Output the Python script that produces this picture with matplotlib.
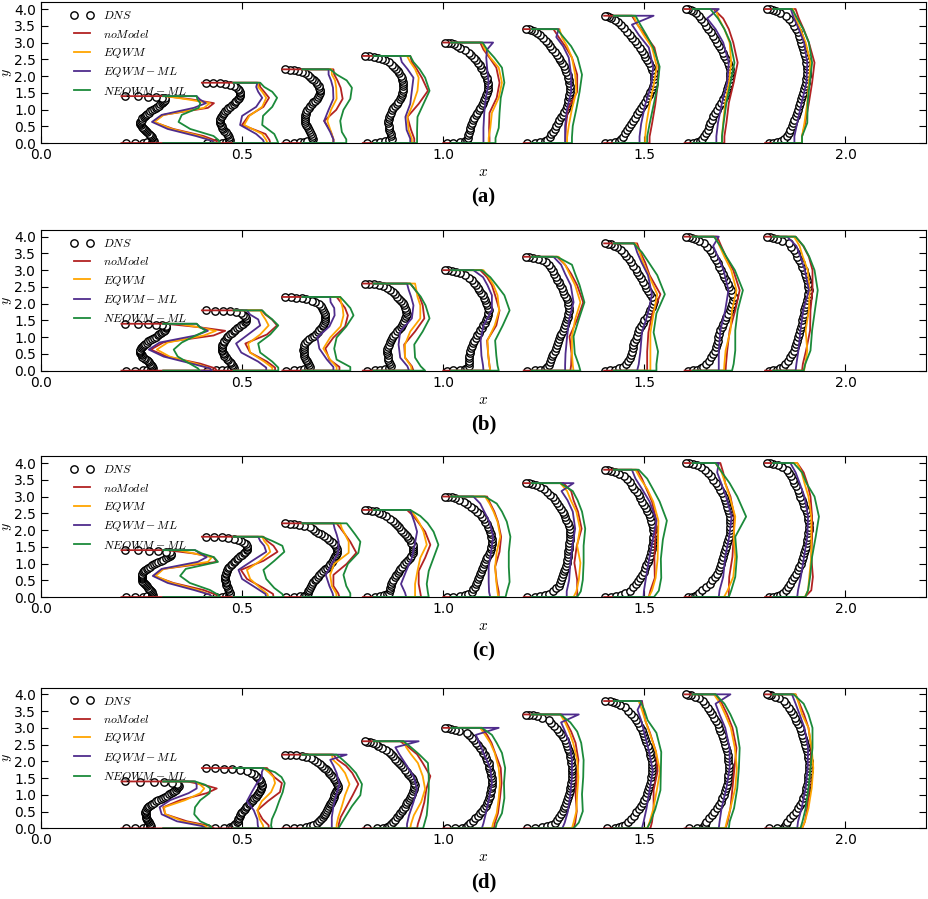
import matplotlib
matplotlib.use('Agg')
import matplotlib.pyplot as plt

plt.rcParams['mathtext.fontset'] = 'cm'
plt.rcParams['xtick.direction'] = 'in'
plt.rcParams['ytick.direction'] = 'in'

# measuring stations and local channel height
stations = [0.2, 0.4, 0.6, 0.8, 1.0, 1.2, 1.4, 1.6, 1.8]
heights = [1.4, 1.8, 2.2, 2.6, 3.0, 3.4, 3.8, 4.0, 4.0]

# wall-normal sample positions as a fraction of the local height
eta_dns = [0.001, 0.003, 0.008, 0.018, 0.03,
           0.05, 0.075, 0.1, 0.125, 0.15, 0.175, 0.2, 0.225, 0.25, 0.275,
           0.3, 0.325, 0.35, 0.375, 0.4, 0.425, 0.45, 0.475, 0.5, 0.525,
           0.55, 0.575, 0.6, 0.625, 0.65, 0.675, 0.7, 0.725, 0.75, 0.775,
           0.8, 0.825, 0.85, 0.875, 0.9, 0.925, 0.95,
           0.97, 0.982, 0.992, 0.997, 0.999]
# LES rows: bottom wall value, profile (0 .. 1), top wall value
eta_les = [0.0, 0.0, 0.05, 0.15, 0.30, 0.45, 0.60, 0.75, 0.85, 0.93, 1.0, 1.0]

# all profiles are offsets from the station, in units of 0.01 in x
# ---------------- case (a) ----------------
dns_a = [
    [1.2, 3.4, 5.3, 6.3, 7.5,
     8.0, 7.9, 7.7, 7.5, 7.3, 7.1, 6.8, 6.45, 6.1, 5.8, 5.5, 5.25, 5.0, 4.8, 4.7, 4.65, 4.7, 4.8, 5.0, 5.2,
     5.5, 5.8, 6.1, 6.45, 6.8, 7.2, 7.6, 8.05, 8.5, 8.9, 9.3, 9.65, 10.0, 10.3, 10.6, 10.75, 10.8,
     10.0, 8.5, 6.5, 4.0, 1.0],
    [1.2, 3.5, 5.0, 6.0, 6.7,
     7.0, 6.85, 6.7, 6.45, 6.2, 5.9, 5.6, 5.35, 5.1, 4.9, 4.7, 4.6, 4.6, 4.55, 4.6, 4.8, 5.0, 5.25, 5.5, 5.85,
     6.2, 6.6, 7.0, 7.45, 7.9, 8.25, 8.6, 8.9, 9.2, 9.4, 9.5, 9.5, 9.4, 9.2, 8.9, 8.45, 7.9,
     7.0, 5.8, 4.5, 2.8, 1.1],
    [0.9, 3.0, 4.3, 5.3, 6.2,
     7.6, 7.45, 7.3, 7.05, 6.8, 6.55, 6.3, 6.05, 5.8, 5.7, 5.6, 5.55, 5.6, 5.7, 5.8, 6.0, 6.2, 6.55, 6.9, 7.3,
     7.7, 8.15, 8.6, 8.9, 9.1, 9.3, 9.4, 9.35, 9.2, 9.0, 8.7, 8.3, 7.9, 7.4, 6.9, 6.3, 5.7,
     5.0, 4.0, 3.0, 2.0, 0.6],
    [1.0, 3.1, 4.3, 5.6, 6.5,
     7.2, 7.1, 7.0, 6.8, 6.6, 6.5, 6.4, 6.3, 6.3, 6.4, 6.5, 6.75, 7.0, 7.3, 7.6, 8.05, 8.5, 8.85, 9.2, 9.45,
     9.7, 9.85, 10.0, 10.05, 10.1, 10.05, 10.0, 9.85, 9.7, 9.4, 9.1, 8.7, 8.3, 7.75, 7.2, 6.45, 5.6,
     4.8, 3.9, 2.8, 1.6, 0.5],
    [0.9, 2.5, 4.1, 5.3, 5.8,
     6.1, 6.25, 6.4, 6.55, 6.7, 6.9, 7.1, 7.4, 7.7, 8.05, 8.4, 8.8, 9.2, 9.55, 9.9, 10.2, 10.5, 10.7, 10.9, 11.1,
     11.2, 11.2, 11.1, 10.95, 10.8, 10.5, 10.2, 9.85, 9.5, 9.1, 8.7, 8.2, 7.7, 7.0, 6.3, 5.3, 4.2,
     3.5, 2.7, 2.0, 1.3, 0.5],
    [0.8, 2.9, 4.1, 5.3, 5.9,
     6.5, 6.9, 7.3, 7.7, 8.1, 8.5, 8.9, 9.3, 9.7, 10.05, 10.4, 10.7, 10.9, 11.05, 11.2, 11.3, 11.4, 11.4, 11.4, 11.35,
     11.3, 11.1, 10.9, 10.6, 10.3, 9.95, 9.6, 9.15, 8.7, 8.2, 7.7, 7.15, 6.6, 6.05, 5.5, 4.8, 4.1,
     3.2, 2.5, 1.8, 1.2, 0.5],
    [0.3, 1.5, 2.8, 3.6, 4.2,
     4.7, 5.2, 5.7, 6.2, 6.7, 7.15, 7.6, 8.1, 8.6, 9.1, 9.6, 10.1, 10.6, 11.05, 11.5, 11.9, 12.2, 12.4, 12.5, 12.45,
     12.3, 12.0, 11.7, 11.2, 10.7, 10.25, 9.8, 9.3, 8.8, 8.2, 7.6, 7.0, 6.4, 5.7, 5.0, 4.2, 3.4,
     2.6, 1.8, 1.2, 0.8, 0.3],
    [0.8, 2.0, 3.1, 3.8, 4.4,
     4.9, 5.3, 5.7, 6.05, 6.4, 6.75, 7.1, 7.6, 8.1, 8.6, 9.1, 9.55, 10.0, 10.3, 10.6, 10.85, 11.1, 11.3, 11.4, 11.35,
     11.2, 10.95, 10.7, 10.3, 9.9, 9.5, 9.1, 8.6, 8.1, 7.6, 7.1, 6.45, 5.8, 5.3, 4.8, 4.15, 3.5,
     2.8, 2.2, 1.5, 0.9, 0.4],
    [0.9, 2.0, 3.0, 3.9, 4.6,
     5.5, 5.9, 6.3, 6.65, 7.0, 7.3, 7.6, 7.85, 8.1, 8.35, 8.6, 8.9, 9.2, 9.5, 9.8, 9.95, 10.1, 10.25, 10.4, 10.45,
     10.5, 10.4, 10.3, 10.1, 9.9, 9.7, 9.5, 9.25, 9.0, 8.7, 8.4, 8.1, 7.8, 7.25, 6.7, 5.9, 5.1,
     3.8, 2.8, 2.0, 1.2, 0.5],
]
nomodel_a = [
    [0, 24.0, 23.5, 20.4, 12.9, 8.0, 10.4, 21.5, 23.0, 17.5, 10.9, 0],
    [0, 17.0, 16.8, 15.8, 10.0, 11.6, 15.3, 16.7, 15.5, 14.5, 14.3, 0],
    [0, 12.7, 12.7, 12.1, 10.4, 13.4, 15.0, 14.5, 13.7, 12.9, 12.7, 0],
    [0, 12.8, 12.8, 12.0, 11.1, 13.9, 16.2, 14.7, 13.4, 12.2, 11.8, 0],
    [0, 11.5, 11.5, 11.4, 11.5, 13.3, 14.0, 13.2, 11.5, 10.0, 9.2, 0],
    [0, 10.4, 10.4, 10.5, 11.0, 13.3, 13.3, 12.0, 10.3, 8.7, 7.4, 0],
    [0, 11.3, 11.3, 11.9, 12.7, 13.3, 13.6, 12.5, 10.2, 8.3, 6.9, 0],
    [0, 9.9, 9.9, 10.4, 11.0, 12.2, 13.2, 12.1, 11.0, 9.6, 7.2, 0],
    [0, 9.2, 9.2, 10.0, 10.9, 11.7, 12.3, 10.9, 9.6, 8.4, 7.6, 0],
]
eqwm_a = [
    [10.4, 23.0, 22.5, 19.5, 12.5, 8.2, 10.5, 20.5, 22.0, 16.5, 11.0, 10.4],
    [7.9, 16.3, 16.0, 15.0, 10.5, 11.8, 15.0, 16.0, 15.0, 14.0, 14.0, 7.9],
    [5.0, 12.7, 12.7, 12.1, 11.2, 12.1, 13.5, 13.4, 13.1, 12.3, 12.3, 5.0],
    [2.7, 12.2, 12.2, 11.4, 11.1, 12.5, 13.6, 13.9, 13.0, 11.8, 11.0, 2.7],
    [2.0, 11.3, 11.3, 11.7, 12.1, 13.8, 14.6, 13.8, 11.7, 10.4, 9.6, 2.0],
    [2.0, 10.8, 10.8, 11.2, 12.0, 13.1, 12.8, 12.0, 10.8, 9.5, 8.9, 2.0],
    [2.4, 10.2, 10.2, 10.5, 11.3, 12.3, 13.1, 11.9, 9.8, 8.3, 7.3, 2.4],
    [2.0, 9.3, 9.3, 9.6, 10.1, 11.0, 11.6, 11.2, 9.9, 8.5, 7.7, 2.0],
    [2.0, 9.2, 9.2, 9.8, 10.5, 10.9, 11.3, 10.1, 8.8, 7.6, 7.0, 2.0],
]
eqwm_ml_a = [
    [10.4, 23.0, 22.5, 18.5, 11.5, 7.6, 10.0, 18.0, 21.0, 19.5, 18.7, 10.4],
    [7.9, 15.5, 15.2, 13.5, 9.5, 10.0, 13.5, 15.0, 14.0, 13.5, 13.8, 7.9],
    [5.0, 12.7, 12.7, 11.9, 10.4, 11.5, 12.7, 12.6, 12.1, 11.5, 11.5, 5.0],
    [2.7, 11.8, 11.8, 10.9, 10.6, 11.8, 12.2, 12.6, 11.1, 9.7, 9.3, 2.7],
    [2.0, 10.0, 10.0, 10.0, 10.2, 10.6, 11.3, 10.9, 10.7, 10.9, 12.4, 2.0],
    [2.0, 10.3, 10.3, 10.3, 10.8, 11.8, 11.8, 11.2, 9.8, 8.1, 8.7, 2.0],
    [2.4, 8.8, 8.8, 9.2, 10.2, 11.7, 12.2, 11.1, 8.6, 6.9, 12.3, 2.4],
    [2.0, 7.9, 7.9, 8.3, 9.3, 10.6, 11.0, 9.6, 7.7, 5.6, 8.5, 2.0],
    [2.0, 7.3, 7.3, 8.0, 9.1, 10.3, 10.5, 9.7, 8.4, 7.2, 6.4, 2.0],
]
neqwm_ml_a = [
    [10.4, 24.5, 24.3, 22.9, 17.1, 14.2, 15.0, 19.2, 19.6, 18.9, 18.7, 10.4],
    [7.9, 19.0, 18.7, 18.0, 15.0, 15.2, 17.5, 18.7, 17.5, 15.5, 14.5, 7.9],
    [5.0, 15.9, 15.9, 14.8, 14.4, 15.2, 16.9, 17.3, 16.0, 13.5, 11.9, 5.0],
    [2.7, 13.5, 13.5, 13.5, 13.6, 15.1, 16.6, 15.5, 14.1, 12.6, 11.8, 2.7],
    [2.0, 13.0, 13.0, 13.8, 14.0, 14.3, 15.2, 14.6, 12.7, 10.9, 9.8, 2.0],
    [2.0, 12.0, 12.0, 12.2, 13.1, 13.9, 14.5, 13.4, 11.8, 9.9, 8.3, 2.0],
    [2.4, 10.7, 10.7, 11.3, 12.3, 13.3, 13.8, 12.2, 10.5, 9.0, 7.8, 2.4],
    [2.0, 9.3, 9.3, 9.7, 10.4, 11.4, 12.4, 11.4, 9.9, 8.3, 6.4, 2.0],
    [2.0, 9.2, 9.2, 10.5, 10.6, 11.1, 11.7, 10.9, 9.5, 8.0, 6.7, 2.0],
]

# ---------------- case (b) ----------------
dns_b = [
    [1.2, 3.4, 5.3, 6.3, 7.3,
     7.8, 7.7, 7.6, 7.4, 7.2, 6.9, 6.6, 6.25, 5.9, 5.55, 5.2, 5.0, 4.8, 4.7, 4.6, 4.6, 4.7, 4.85, 5.0, 5.3,
     5.6, 5.95, 6.3, 6.7, 7.1, 7.55, 8.0, 8.5, 9.0, 9.4, 9.8, 10.15, 10.5, 10.75, 11.0, 11.1, 11.2,
     10.2, 8.6, 6.6, 4.0, 1.0],
    [1.2, 3.5, 5.0, 6.2, 7.2,
     7.9, 7.7, 7.5, 7.2, 6.9, 6.55, 6.2, 5.9, 5.6, 5.4, 5.2, 5.1, 5.0, 4.95, 5.0, 5.1, 5.2, 5.4, 5.6, 5.9,
     6.2, 6.6, 7.0, 7.45, 7.9, 8.3, 8.7, 9.2, 9.7, 10.15, 10.6, 10.85, 11.0, 10.95, 10.8, 10.3, 9.7,
     8.5, 7.0, 5.3, 3.2, 1.1],
    [0.9, 3.0, 4.3, 5.3, 6.3,
     6.9, 6.6, 6.3, 6.05, 5.8, 5.65, 5.5, 5.4, 5.3, 5.25, 5.3, 5.35, 5.4, 5.7, 6.1, 6.7, 7.3, 7.85, 8.4, 8.8,
     9.2, 9.6, 10.0, 10.2, 10.4, 10.5, 10.6, 10.6, 10.6, 10.5, 10.4, 10.15, 9.9, 9.5, 9.0, 8.2, 7.3,
     6.0, 4.8, 3.5, 2.2, 0.6],
    [1.0, 3.1, 4.3, 5.5, 6.4,
     7.0, 6.75, 6.5, 6.35, 6.2, 6.15, 6.1, 6.05, 6.1, 6.3, 6.5, 6.75, 7.0, 7.3, 7.6, 8.05, 8.5, 9.0, 9.5, 9.8,
     10.1, 10.35, 10.6, 10.8, 10.9, 10.85, 10.8, 10.55, 10.3, 9.9, 9.5, 9.05, 8.6, 8.1, 7.6, 6.8, 6.0,
     5.0, 4.0, 2.8, 1.6, 0.5],
    [0.9, 2.5, 4.1, 5.3, 6.0,
     6.3, 6.3, 6.3, 6.4, 6.5, 6.6, 6.7, 6.9, 7.1, 7.4, 7.7, 8.05, 8.4, 8.8, 9.2, 9.6, 10.0, 10.35, 10.7, 10.9,
     11.1, 11.2, 11.3, 11.2, 11.0, 10.7, 10.4, 10.1, 9.8, 9.4, 9.0, 8.6, 8.2, 7.65, 7.1, 6.3, 5.5,
     4.2, 3.2, 2.2, 1.3, 0.5],
    [0.8, 2.9, 4.1, 5.2, 5.8,
     6.2, 6.55, 6.9, 7.15, 7.4, 7.7, 8.0, 8.25, 8.5, 8.75, 9.0, 9.35, 9.7, 10.0, 10.3, 10.55, 10.8, 10.95, 11.1, 11.15,
     11.2, 11.05, 10.9, 10.65, 10.4, 10.1, 9.8, 9.45, 9.1, 8.75, 8.4, 8.0, 7.6, 7.2, 6.8, 6.2, 5.6,
     4.5, 3.5, 2.4, 1.4, 0.5],
    [0.3, 1.5, 2.8, 3.8, 4.7,
     5.5, 5.95, 6.4, 6.65, 6.9, 7.1, 7.3, 7.55, 7.8, 8.05, 8.3, 8.75, 9.2, 9.6, 10.0, 10.55, 11.1, 11.5, 11.9, 12.15,
     12.3, 11.95, 11.5, 11.0, 10.5, 10.05, 9.6, 9.15, 8.7, 8.25, 7.8, 7.25, 6.7, 6.1, 5.5, 4.85, 4.2,
     3.2, 2.4, 1.6, 1.0, 0.3],
    [0.8, 2.0, 3.1, 4.0, 4.7,
     5.4, 6.0, 6.6, 7.05, 7.5, 7.8, 8.1, 8.25, 8.4, 8.65, 8.9, 9.25, 9.6, 10.0, 10.4, 10.9, 11.4, 11.65, 11.9, 12.05,
     12.2, 11.9, 11.6, 11.15, 10.7, 10.3, 9.9, 9.5, 9.1, 8.65, 8.2, 7.75, 7.3, 6.8, 6.3, 5.55, 4.8,
     3.6, 2.6, 1.8, 1.0, 0.4],
    [0.9, 2.0, 3.0, 3.8, 4.4,
     4.9, 5.6, 6.3, 6.7, 7.1, 7.45, 7.8, 8.05, 8.3, 8.55, 8.8, 8.95, 9.1, 9.3, 9.5, 9.65, 9.8, 10.05, 10.3, 10.45,
     10.6, 10.75, 10.9, 10.75, 10.6, 10.35, 10.1, 9.85, 9.6, 9.25, 8.9, 8.45, 8.0, 7.6, 7.2, 6.55, 5.9,
     4.3, 3.0, 2.1, 1.2, 0.5],
]
nomodel_b = [
    [0, 23.7, 23.3, 19.6, 11.3, 7.3, 10.4, 22.9, 25.8, 19.0, 11.0, 0],
    [0, 18.2, 18.2, 16.2, 12.0, 10.8, 16.2, 18.7, 17.4, 15.8, 14.9, 0],
    [0, 14.2, 14.2, 11.7, 10.7, 12.7, 15.6, 16.3, 15.6, 14.5, 13.5, 0],
    [0, 12.6, 12.2, 10.5, 10.3, 13.0, 15.3, 14.9, 14.1, 13.0, 11.8, 0],
    [0, 11.7, 11.5, 11.2, 10.9, 13.2, 14.0, 12.9, 12.1, 10.9, 9.2, 0],
    [0, 11.6, 11.8, 11.9, 11.4, 13.3, 14.8, 13.3, 11.8, 10.3, 8.3, 0],
    [0, 10.7, 10.7, 10.7, 11.0, 12.0, 14.0, 11.3, 10.2, 9.0, 8.2, 0],
    [0, 10.2, 10.3, 10.6, 11.2, 12.6, 13.7, 12.1, 10.3, 9.1, 8.1, 0],
    [0, 9.2, 9.4, 10.2, 11.2, 11.3, 11.8, 11.8, 10.9, 9.5, 7.6, 0],
]
eqwm_b = [
    [10.4, 22.5, 22.0, 18.5, 12.0, 8.8, 11.5, 20.5, 23.5, 19.0, 14.0, 10.4],
    [7.9, 17.5, 17.5, 15.5, 12.0, 11.5, 14.5, 16.6, 15.8, 15.0, 14.5, 7.9],
    [5.0, 13.5, 13.5, 11.9, 10.2, 11.9, 14.5, 15.2, 15.0, 14.6, 14.4, 5.0],
    [2.7, 12.2, 12.0, 10.5, 10.5, 11.8, 14.3, 14.3, 13.6, 13.3, 13.0, 2.7],
    [2.0, 11.7, 11.5, 11.2, 11.0, 12.8, 13.9, 13.5, 12.5, 11.3, 10.0, 2.0],
    [2.0, 12.4, 12.2, 12.0, 12.0, 12.8, 14.1, 12.8, 11.4, 10.3, 8.7, 2.0],
    [2.4, 11.5, 11.5, 11.5, 11.5, 12.3, 13.2, 11.1, 9.7, 8.8, 7.8, 2.4],
    [2.0, 9.8, 9.9, 10.2, 11.4, 11.8, 12.9, 11.6, 9.9, 8.7, 7.7, 2.0],
    [2.0, 9.7, 10.0, 10.5, 10.1, 10.9, 11.1, 10.6, 9.4, 8.6, 7.2, 2.0],
]
eqwm_ml_b = [
    [10.4, 22.5, 22.0, 17.5, 10.5, 6.8, 9.5, 18.5, 21.5, 19.5, 18.7, 10.4],
    [7.9, 16.0, 16.0, 14.0, 9.8, 8.5, 11.5, 14.5, 14.0, 12.0, 11.2, 7.9],
    [5.0, 12.7, 12.7, 11.1, 9.2, 8.7, 11.7, 13.0, 12.9, 12.0, 11.9, 5.0],
    [2.7, 11.5, 11.1, 9.3, 8.9, 9.3, 12.2, 12.6, 12.0, 11.4, 11.0, 2.7],
    [2.0, 10.0, 9.9, 9.5, 9.3, 10.0, 12.1, 12.1, 11.0, 9.9, 7.5, 2.0],
    [2.0, 10.3, 10.3, 10.4, 10.8, 11.3, 12.4, 11.7, 10.3, 9.3, 7.4, 2.0],
    [2.4, 8.2, 8.6, 9.0, 9.4, 10.9, 11.9, 10.9, 9.3, 8.2, 7.5, 2.4],
    [2.0, 8.5, 8.5, 8.5, 8.9, 10.1, 10.9, 9.7, 8.3, 7.1, 8.5, 2.0],
    [2.0, 7.6, 7.8, 8.3, 8.8, 9.5, 10.9, 9.9, 8.8, 7.8, 5.5, 2.0],
]
neqwm_ml_b = [
    [10.4, 19.5, 19.0, 17.0, 14.0, 13.0, 15.0, 18.5, 21.0, 19.5, 18.7, 10.4],
    [7.9, 19.0, 19.0, 17.5, 14.5, 14.0, 17.0, 19.0, 17.5, 16.0, 15.0, 7.9],
    [5.0, 16.9, 16.9, 13.5, 12.9, 13.5, 15.9, 17.7, 16.9, 15.6, 14.4, 5.0],
    [2.7, 15.5, 14.4, 13.0, 12.8, 14.9, 16.6, 15.6, 14.4, 13.0, 11.8, 2.7],
    [2.0, 13.8, 13.5, 13.2, 12.9, 14.8, 16.5, 15.2, 13.3, 11.7, 9.6, 2.0],
    [2.0, 14.1, 13.7, 12.7, 12.4, 13.7, 15.1, 13.9, 12.8, 12.0, 8.3, 2.0],
    [2.4, 13.0, 13.0, 13.4, 12.3, 13.0, 15.1, 13.2, 11.1, 9.4, 7.3, 2.4],
    [2.0, 11.8, 12.2, 12.6, 12.6, 13.2, 14.5, 12.5, 10.4, 8.9, 7.3, 2.0],
    [2.0, 9.6, 10.0, 11.3, 11.7, 12.4, 13.1, 12.3, 11.0, 9.6, 7.6, 2.0],
]

# ---------------- case (c) ----------------
dns_c = [
    [1.2, 3.4, 5.3, 6.3, 7.5,
     7.8, 7.65, 7.5, 7.3, 7.1, 6.85, 6.6, 6.3, 6.0, 5.8, 5.6, 5.4, 5.2, 5.15, 5.1, 5.1, 5.1, 5.15, 5.2, 5.4,
     5.6, 5.95, 6.3, 6.7, 7.1, 7.6, 8.1, 8.65, 9.2, 9.8, 10.4, 11.0, 11.6, 12.05, 12.4, 12.4, 12.2,
     11.0, 9.0, 6.8, 4.0, 1.0],
    [1.2, 3.5, 5.0, 6.0, 6.7,
     7.0, 6.9, 6.8, 6.6, 6.4, 6.25, 6.1, 6.0, 5.9, 5.85, 5.8, 5.8, 5.8, 5.9, 6.0, 6.15, 6.3, 6.55, 6.8, 7.15,
     7.5, 7.9, 8.3, 8.7, 9.1, 9.55, 10.0, 10.4, 10.8, 11.1, 11.3, 11.3, 11.2, 10.85, 10.4, 9.8, 9.1,
     8.0, 6.5, 5.0, 3.0, 1.1],
    [0.9, 3.0, 4.3, 5.3, 5.8,
     6.3, 6.5, 6.7, 6.95, 7.2, 7.45, 7.7, 8.05, 8.4, 8.8, 9.2, 9.65, 10.1, 10.6, 11.1, 11.5, 11.9, 12.3, 12.7, 12.95,
     13.2, 13.35, 13.5, 13.6, 13.6, 13.45, 13.2, 12.8, 12.3, 11.7, 11.1, 10.35, 9.6, 8.9, 8.2, 7.55, 6.9,
     5.5, 4.2, 3.0, 1.8, 0.6],
    [1.0, 3.1, 4.3, 5.3, 6.0,
     6.6, 6.7, 6.8, 6.95, 7.1, 7.35, 7.6, 7.95, 8.3, 8.65, 9.0, 9.35, 9.7, 10.25, 10.8, 11.3, 11.8, 12.1, 12.4, 12.5,
     12.6, 12.55, 12.4, 12.1, 11.8, 11.35, 10.9, 10.5, 10.1, 9.6, 9.1, 8.6, 8.1, 7.45, 6.8, 5.8, 4.7,
     4.0, 3.2, 2.3, 1.4, 0.5],
    [0.9, 2.5, 4.1, 5.3, 6.2,
     7.1, 7.45, 7.8, 8.1, 8.4, 8.7, 9.0, 9.25, 9.5, 9.7, 9.9, 10.15, 10.4, 10.7, 11.0, 11.35, 11.7, 11.85, 12.0, 12.05,
     12.1, 12.05, 12.0, 11.85, 11.7, 11.4, 11.1, 10.8, 10.5, 10.1, 9.7, 9.05, 8.4, 7.65, 6.9, 6.0, 5.1,
     4.0, 3.0, 2.1, 1.3, 0.5],
    [0.8, 2.9, 4.1, 5.3, 6.2,
     7.4, 8.1, 8.7, 9.0, 9.3, 9.55, 9.8, 10.05, 10.3, 10.5, 10.7, 10.8, 10.9, 11.0, 11.1, 11.15, 11.2, 11.3, 11.4, 11.5,
     11.6, 11.5, 11.4, 11.15, 10.9, 10.6, 10.3, 10.0, 9.7, 9.25, 8.8, 8.3, 7.8, 7.2, 6.6, 5.85, 5.1,
     4.0, 3.0, 2.1, 1.3, 0.5],
    [0.3, 1.8, 3.0, 4.2, 5.3,
     6.5, 7.3, 8.0, 8.5, 9.0, 9.4, 9.8, 10.15, 10.5, 10.8, 11.1, 11.35, 11.6, 11.8, 12.0, 12.1, 12.2, 12.25, 12.3, 12.2,
     12.1, 11.9, 11.7, 11.4, 11.1, 10.7, 10.3, 9.85, 9.4, 9.0, 8.6, 8.05, 7.5, 6.95, 6.4, 5.65, 4.9,
     3.6, 2.6, 1.7, 1.0, 0.3],
    [0.8, 1.8, 2.6, 3.2, 3.6,
     4.4, 5.3, 6.2, 6.9, 7.6, 8.05, 8.5, 8.8, 9.1, 9.35, 9.6, 9.85, 10.1, 10.35, 10.6, 10.85, 11.1, 11.25, 11.4, 11.4,
     11.4, 11.35, 11.3, 11.05, 10.8, 10.55, 10.3, 10.0, 9.7, 9.25, 8.8, 8.25, 7.7, 7.15, 6.6, 5.9, 5.2,
     4.0, 3.0, 2.0, 1.1, 0.4],
    [0.9, 2.0, 3.0, 3.8, 4.4,
     5.1, 5.6, 6.1, 6.6, 7.1, 7.6, 8.1, 8.55, 9.0, 9.25, 9.5, 9.75, 10.0, 10.2, 10.4, 10.55, 10.7, 10.8, 10.9, 10.9,
     10.9, 10.75, 10.6, 10.35, 10.1, 9.8, 9.5, 9.15, 8.8, 8.45, 8.1, 7.7, 7.3, 6.9, 6.5, 6.0, 5.5,
     4.3, 3.1, 2.1, 1.2, 0.5],
]
nomodel_c = [
    [0, 24.0, 23.5, 20.4, 12.9, 8.1, 10.4, 23.7, 22.9, 17.9, 11.3, 0],
    [0, 17.8, 17.7, 15.3, 11.2, 9.7, 15.3, 18.8, 17.8, 16.2, 15.3, 0],
    [0, 14.2, 13.9, 12.7, 12.7, 16.0, 18.4, 16.9, 15.6, 14.5, 13.5, 0],
    [0, 14.5, 14.3, 13.9, 13.9, 15.5, 16.8, 15.5, 13.9, 12.6, 11.0, 0],
    [0, 13.8, 13.8, 13.3, 12.9, 14.0, 14.4, 13.6, 12.7, 11.7, 10.9, 0],
    [0, 13.3, 13.3, 13.3, 12.6, 13.2, 14.4, 13.5, 12.4, 11.8, 9.9, 0],
    [0, 11.1, 11.5, 12.6, 12.5, 12.7, 13.0, 11.9, 10.5, 9.4, 8.2, 0],
    [0, 11.0, 11.0, 11.1, 11.9, 12.2, 12.4, 11.4, 10.1, 9.6, 8.9, 0],
    [0, 9.9, 11.5, 11.9, 11.5, 11.7, 11.7, 11.3, 10.5, 9.6, 8.0, 0],
]
eqwm_c = [
    [10.4, 22.5, 22.0, 19.0, 12.5, 8.5, 10.5, 21.5, 22.5, 18.0, 14.0, 10.4],
    [7.9, 16.5, 16.3, 14.5, 12.0, 11.2, 14.5, 17.0, 16.5, 15.5, 15.0, 7.9],
    [5.0, 13.5, 13.4, 12.3, 11.9, 12.9, 16.5, 16.5, 15.6, 14.8, 14.4, 5.0],
    [2.7, 13.0, 13.0, 13.0, 13.6, 14.3, 15.9, 15.1, 14.1, 13.0, 11.8, 2.7],
    [2.0, 13.7, 13.5, 13.2, 12.9, 13.3, 14.2, 13.5, 12.5, 11.5, 10.4, 2.0],
    [2.0, 12.4, 13.1, 13.7, 14.1, 13.3, 14.0, 13.1, 11.7, 10.8, 9.1, 2.0],
    [2.4, 11.1, 11.9, 12.8, 13.3, 13.4, 13.5, 12.2, 10.7, 9.0, 7.8, 2.4],
    [2.0, 9.8, 10.7, 12.1, 12.6, 12.2, 12.6, 11.2, 10.1, 9.2, 7.7, 2.0],
    [2.0, 9.9, 10.7, 11.0, 11.5, 11.5, 11.5, 10.8, 9.8, 9.1, 8.0, 2.0],
]
eqwm_ml_c = [
    [10.4, 22.5, 22.0, 18.0, 11.5, 7.8, 10.0, 19.0, 21.2, 19.5, 18.3, 10.4],
    [7.9, 16.0, 15.8, 13.5, 10.0, 9.1, 12.5, 16.0, 15.5, 14.5, 14.0, 7.9],
    [5.0, 12.7, 12.5, 11.7, 10.8, 12.3, 13.9, 14.0, 13.5, 13.0, 12.7, 5.0],
    [2.7, 10.8, 10.5, 9.5, 10.8, 12.2, 12.9, 13.5, 12.9, 12.3, 11.8, 2.7],
    [2.0, 11.7, 11.4, 11.3, 11.3, 11.9, 12.4, 11.5, 10.2, 9.2, 7.5, 2.0],
    [2.0, 10.7, 10.7, 11.3, 11.6, 12.1, 12.8, 12.2, 10.9, 9.4, 12.4, 2.0],
    [2.4, 9.8, 9.9, 10.4, 11.2, 12.1, 13.0, 11.3, 9.4, 7.8, 6.9, 2.4],
    [2.0, 8.5, 8.7, 9.6, 10.1, 11.1, 11.7, 10.3, 9.1, 8.1, 8.5, 2.0],
    [2.0, 8.0, 8.2, 8.9, 9.7, 10.5, 10.7, 9.8, 8.6, 7.6, 6.3, 2.0],
]
neqwm_ml_c = [
    [10.4, 24.5, 24.0, 22.0, 17.0, 14.6, 16.0, 24.0, 23.0, 20.0, 18.3, 10.4],
    [7.9, 20.3, 20.0, 18.0, 16.0, 15.3, 18.0, 20.5, 20.0, 17.5, 15.0, 7.9],
    [5.0, 16.9, 16.9, 15.9, 15.2, 16.3, 18.9, 19.4, 18.1, 17.0, 16.0, 5.0],
    [2.7, 16.4, 16.2, 15.9, 16.4, 17.6, 18.8, 17.6, 16.1, 14.3, 11.8, 2.7],
    [2.0, 15.5, 15.8, 16.5, 16.3, 16.3, 16.7, 15.8, 14.6, 13.3, 10.4, 2.0],
    [2.0, 13.3, 14.2, 14.7, 14.9, 14.9, 15.3, 14.5, 13.4, 12.2, 9.1, 2.0],
    [2.4, 12.4, 13.6, 14.2, 14.1, 14.6, 15.6, 13.8, 12.1, 10.7, 8.6, 2.4],
    [2.0, 11.0, 11.6, 12.6, 13.0, 12.6, 15.3, 13.1, 11.2, 9.3, 7.7, 2.0],
    [2.0, 10.0, 10.7, 11.2, 11.7, 12.6, 13.4, 12.3, 10.3, 9.2, 7.1, 2.0],
]

# ---------------- case (d) ----------------
dns_d = [
    [1.2, 3.4, 5.3, 6.3, 7.0,
     7.3, 7.15, 7.0, 6.8, 6.6, 6.45, 6.3, 6.2, 6.1, 6.05, 6.0, 5.95, 5.9, 6.0, 6.1, 6.35, 6.6, 6.95, 7.3, 7.7,
     8.1, 8.65, 9.2, 9.75, 10.3, 10.8, 11.3, 11.8, 12.3, 12.7, 13.1, 13.5, 13.9, 14.15, 14.3, 14.1, 13.8,
     12.5, 10.5, 8.0, 4.5, 1.0],
    [1.2, 3.3, 5.4, 7.0, 7.6,
     7.9, 8.3, 8.7, 8.9, 9.1, 9.25, 9.4, 9.55, 9.7, 10.05, 10.4, 10.7, 11.0, 11.3, 11.6, 12.0, 12.4, 12.7, 13.0, 13.35,
     13.7, 14.0, 14.3, 14.5, 14.7, 14.8, 14.9, 14.9, 14.8, 14.65, 14.5, 14.2, 13.8, 13.35, 12.9, 12.1, 11.2,
     9.5, 7.5, 5.5, 3.2, 1.1],
    [0.9, 2.8, 4.5, 5.8, 6.8,
     7.7, 8.5, 9.2, 9.65, 10.1, 10.35, 10.6, 10.9, 11.2, 11.4, 11.6, 11.85, 12.1, 12.35, 12.6, 12.75, 12.9, 13.15, 13.4, 13.6,
     13.8, 13.8, 13.7, 13.4, 13.1, 12.8, 12.5, 12.1, 11.7, 11.3, 10.9, 10.4, 9.9, 9.3, 8.7, 7.9, 7.1,
     5.9, 4.8, 3.5, 2.0, 0.6],
    [1.0, 3.5, 5.1, 6.0, 6.6,
     7.0, 7.5, 8.0, 8.45, 8.9, 9.3, 9.7, 10.1, 10.5, 10.8, 11.1, 11.45, 11.8, 12.05, 12.3, 12.5, 12.7, 12.85, 12.9, 12.8,
     12.6, 12.2, 11.8, 11.35, 10.9, 10.5, 10.1, 9.6, 9.1, 8.55, 8.0, 7.5, 7.0, 6.4, 5.8, 4.85, 3.9,
     3.2, 2.5, 1.8, 1.1, 0.5],
    [0.9, 2.9, 4.6, 5.6, 6.2,
     6.7, 7.35, 8.0, 8.6, 9.2, 9.7, 10.2, 10.55, 10.9, 11.15, 11.4, 11.55, 11.7, 11.85, 12.0, 12.05, 12.1, 12.1, 12.1, 12.0,
     11.9, 11.7, 11.5, 11.4, 11.3, 11.0, 10.7, 10.35, 10.0, 9.6, 9.2, 8.7, 8.2, 7.65, 7.1, 6.5, 5.9,
     4.0, 3.0, 2.0, 1.2, 0.5],
    [0.8, 2.9, 4.5, 5.8, 6.8,
     7.9, 8.4, 8.9, 9.35, 9.8, 10.05, 10.3, 10.55, 10.8, 11.0, 11.2, 11.4, 11.6, 11.7, 11.8, 11.9, 12.0, 12.0, 12.0, 11.95,
     11.9, 11.8, 11.7, 11.55, 11.4, 11.2, 11.0, 10.75, 10.5, 10.15, 9.8, 9.35, 8.9, 8.25, 7.6, 6.9, 6.2,
     4.5, 3.3, 2.2, 1.3, 0.5],
    [0.7, 2.8, 3.7, 4.5, 5.2,
     5.9, 6.65, 7.4, 8.0, 8.6, 9.1, 9.6, 9.95, 10.3, 10.6, 10.9, 11.15, 11.4, 11.55, 11.7, 11.8, 11.9, 11.9, 11.9, 11.8,
     11.7, 11.5, 11.3, 11.05, 10.8, 10.5, 10.2, 9.95, 9.7, 9.35, 9.0, 8.5, 8.0, 7.35, 6.7, 6.0, 5.3,
     4.0, 3.0, 2.3, 1.5, 0.3],
    [1.0, 3.1, 4.7, 5.0, 5.2,
     5.4, 6.1, 6.8, 7.4, 8.0, 8.55, 9.1, 9.4, 9.7, 10.0, 10.3, 10.5, 10.7, 10.8, 10.9, 11.0, 11.1, 11.0, 10.9, 10.8,
     10.7, 10.5, 10.3, 10.05, 9.8, 9.5, 9.2, 8.9, 8.6, 8.2, 7.8, 7.35, 6.9, 6.35, 5.8, 5.2, 4.6,
     3.5, 2.5, 1.6, 0.9, 0.4],
    [0.9, 3.0, 4.6, 5.0, 5.3,
     5.5, 6.25, 7.0, 7.6, 8.2, 8.7, 9.2, 9.55, 9.9, 10.1, 10.3, 10.45, 10.6, 10.7, 10.8, 10.85, 10.9, 10.9, 10.9, 10.8,
     10.7, 10.5, 10.3, 10.05, 9.8, 9.5, 9.2, 8.9, 8.6, 8.2, 7.8, 7.4, 7.0, 6.45, 5.9, 5.3, 4.7,
     3.5, 2.5, 1.6, 0.9, 0.4],
]
nomodel_d = [
    [0, 23.0, 22.1, 16.3, 10.9, 10.4, 14.6, 21.2, 23.7, 20.4, 16.3, 0],
    [0, 16.6, 16.6, 15.1, 13.8, 16.4, 19.4, 19.9, 18.0, 17.0, 16.2, 0],
    [0, 14.0, 14.0, 14.5, 16.0, 17.5, 18.9, 17.4, 15.8, 13.7, 12.7, 0],
    [0, 13.5, 13.7, 14.4, 15.3, 15.8, 16.8, 14.9, 13.5, 11.4, 9.3, 0],
    [0, 12.6, 12.8, 13.6, 14.1, 14.5, 14.3, 12.9, 12.0, 10.9, 9.6, 0],
    [0, 12.4, 12.8, 13.2, 12.9, 13.2, 13.6, 12.9, 11.8, 10.6, 9.5, 0],
    [0, 11.5, 11.9, 12.3, 12.3, 13.3, 12.9, 11.4, 10.2, 9.8, 9.4, 0],
    [0, 10.2, 10.7, 11.4, 11.9, 12.4, 12.9, 11.9, 10.6, 9.3, 7.7, 0],
    [0, 9.2, 9.9, 10.5, 11.0, 11.3, 11.5, 10.8, 9.7, 8.6, 7.6, 0],
]
eqwm_d = [
    [10.4, 21.5, 20.8, 15.4, 10.9, 10.6, 15.8, 19.6, 20.6, 19.6, 17.9, 10.4],
    [7.9, 15.3, 15.2, 14.4, 13.8, 14.9, 17.2, 18.2, 17.8, 16.6, 15.3, 7.9],
    [5.0, 13.5, 13.5, 13.9, 14.8, 15.6, 16.7, 15.6, 14.2, 12.6, 12.3, 5.0],
    [2.7, 11.8, 12.0, 12.7, 14.5, 15.5, 14.9, 13.7, 12.0, 10.8, 10.1, 2.7],
    [2.0, 12.1, 12.4, 13.3, 13.8, 14.1, 13.8, 12.8, 11.7, 10.4, 9.2, 2.0],
    [2.0, 12.0, 12.4, 13.1, 13.3, 13.6, 13.3, 12.3, 11.3, 10.3, 9.1, 2.0],
    [2.4, 10.7, 11.3, 12.2, 13.1, 13.9, 12.9, 11.3, 10.2, 9.4, 8.6, 2.4],
    [2.0, 10.1, 10.5, 11.4, 12.6, 13.0, 12.5, 11.5, 10.1, 8.9, 7.3, 2.0],
    [2.0, 9.2, 9.9, 10.8, 11.6, 12.0, 11.6, 10.8, 9.2, 8.4, 7.6, 2.0],
]
eqwm_ml_d = [
    [10.4, 21.0, 20.0, 13.8, 10.0, 9.5, 12.1, 16.7, 18.7, 18.7, 18.3, 10.4],
    [7.9, 14.1, 13.9, 13.8, 12.9, 11.2, 12.4, 13.7, 14.9, 14.9, 15.3, 7.9],
    [5.0, 12.3, 12.3, 12.3, 12.7, 13.4, 14.2, 13.5, 12.7, 11.9, 16.0, 5.0],
    [2.7, 11.0, 11.0, 11.5, 12.6, 13.5, 12.6, 10.5, 9.1, 8.1, 13.9, 2.7],
    [2.0, 9.6, 10.0, 10.6, 11.4, 12.1, 11.7, 10.0, 9.0, 8.1, 13.8, 2.0],
    [2.0, 9.6, 10.2, 11.0, 11.6, 12.0, 12.0, 11.4, 10.3, 9.3, 13.7, 2.0],
    [2.4, 9.4, 9.8, 10.5, 11.3, 12.1, 11.2, 10.0, 9.2, 8.3, 9.4, 2.4],
    [2.0, 8.5, 8.7, 9.2, 10.4, 11.2, 11.2, 10.1, 8.7, 7.7, 11.4, 2.0],
    [2.0, 8.0, 8.2, 9.1, 10.1, 10.6, 10.7, 9.8, 8.6, 7.6, 6.7, 2.0],
]
neqwm_ml_d = [
    [10.4, 22.5, 22.1, 19.6, 18.1, 18.3, 19.6, 21.9, 22.1, 20.8, 18.3, 10.4],
    [7.9, 17.4, 17.2, 17.4, 18.4, 19.2, 20.1, 20.6, 19.8, 18.2, 15.3, 7.9],
    [5.0, 14.0, 14.5, 15.6, 17.3, 19.4, 19.8, 18.3, 16.6, 15.0, 13.5, 5.0],
    [2.7, 15.0, 15.3, 15.9, 16.2, 16.4, 16.4, 16.2, 14.0, 12.0, 10.1, 2.7],
    [2.0, 13.0, 13.3, 14.6, 15.2, 15.1, 15.4, 14.6, 13.3, 12.1, 9.6, 2.0],
    [2.0, 12.4, 13.7, 14.7, 14.5, 14.8, 14.9, 14.3, 13.3, 11.6, 9.1, 2.0],
    [2.4, 10.7, 11.5, 12.7, 14.0, 14.1, 14.2, 13.0, 10.8, 10.0, 9.0, 2.4],
    [2.0, 11.0, 11.2, 12.3, 13.1, 13.5, 13.7, 12.9, 11.4, 9.9, 7.7, 2.0],
    [2.0, 8.8, 9.3, 10.1, 10.8, 11.3, 11.8, 11.8, 10.8, 9.6, 7.1, 2.0],
]

model_styles = [
    ('$noModel$', '#b22222'),
    ('$EQWM$', '#ffa500'),
    ('$EQWM-ML$', '#4f2c8c'),
    ('$NEQWM-ML$', '#1b8a3a'),
]

cases = [
    ('(a)', dns_a, [nomodel_a, eqwm_a, eqwm_ml_a, neqwm_ml_a]),
    ('(b)', dns_b, [nomodel_b, eqwm_b, eqwm_ml_b, neqwm_ml_b]),
    ('(c)', dns_c, [nomodel_c, eqwm_c, eqwm_ml_c, neqwm_ml_c]),
    ('(d)', dns_d, [nomodel_d, eqwm_d, eqwm_ml_d, neqwm_ml_d]),
]
axes_bottoms = [0.8409, 0.5877, 0.3359, 0.0786]


def draw_case(ax, dns, models):
    for i, (x0, h) in enumerate(zip(stations, heights)):
        ax.plot([x0 + d / 100.0 for d in dns[i]], [e * h for e in eta_dns],
                linestyle='none', marker='o', ms=5.3, mfc='white', mec='black',
                mew=1.0, label='$DNS$' if i == 0 else None)
    for (label, color), rows in zip(model_styles, models):
        for i, (x0, h) in enumerate(zip(stations, heights)):
            ax.plot([x0 + d / 100.0 for d in rows[i]], [e * h for e in eta_les],
                    color=color, lw=1.3, label=label if i == 0 else None)


fig = plt.figure(figsize=(9.29, 8.99), dpi=100)
for (tag, dns, models), bottom in zip(cases, axes_bottoms):
    ax = fig.add_axes([0.0441, bottom, 0.9526, 0.1565])
    draw_case(ax, dns, models)
    ax.set_xlim(0, 2.2)
    ax.set_ylim(0, 4.2)
    ax.set_xticks([0.0, 0.5, 1.0, 1.5, 2.0])
    ax.set_yticks([0.0, 0.5, 1.0, 1.5, 2.0, 2.5, 3.0, 3.5, 4.0])
    ax.tick_params(top=True, right=True, length=5, width=0.8, labelsize=10)
    ax.set_xlabel('$x$', fontsize=11)
    ax.set_ylabel('$y$', fontsize=10)
    ax.xaxis.set_label_coords(0.5, -0.15)
    ax.yaxis.set_label_coords(-0.030, 0.5)
    ax.legend(loc='upper left', bbox_to_anchor=(0.0275, 0.984), frameon=False,
              fontsize=8.5, numpoints=2, handlelength=2.0, handletextpad=0.8,
              labelspacing=0.45, borderpad=0.4, borderaxespad=0)
    ax.text(0.5, -0.385, tag, transform=ax.transAxes, ha='center', va='center',
            fontsize=15, fontweight='bold', family='Liberation Serif')

fig.savefig('out.png', dpi=100)
